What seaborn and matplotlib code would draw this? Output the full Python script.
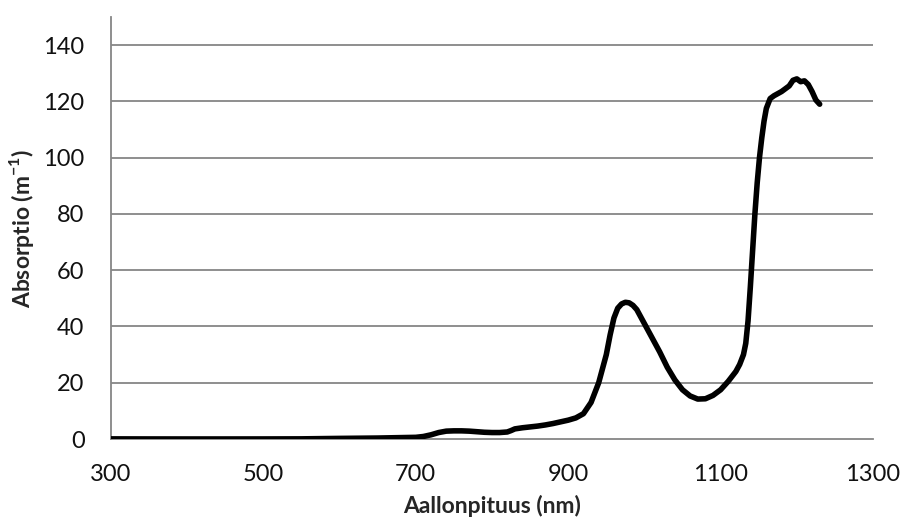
import numpy as np
import pandas as pd
import matplotlib
matplotlib.use("Agg")
import matplotlib.pyplot as plt
import seaborn as sns

wavelength = [300, 350, 400, 450, 500, 550, 600, 650, 700, 710, 720, 730, 740, 750,
              760, 770, 780, 790, 800, 810, 820, 825, 830, 840, 850, 860, 870, 880,
              890, 900, 910, 920, 930, 940, 950, 955, 960, 965, 970, 975, 980, 985,
              990, 1000, 1010, 1020, 1030, 1040, 1050, 1060, 1070, 1080, 1090, 1100,
              1110, 1120, 1125, 1130, 1133, 1136, 1139, 1142, 1145, 1148, 1151, 1154,
              1157, 1160, 1165, 1170, 1180, 1190, 1195, 1200, 1205, 1210, 1215, 1220,
              1225, 1230]
absorption = [0.05, 0.03, 0.02, 0.02, 0.03, 0.06, 0.22, 0.35, 0.6, 0.9, 1.5, 2.3, 2.8, 2.9,
              2.9, 2.8, 2.6, 2.4, 2.3, 2.3, 2.5, 3.0, 3.6, 4.0, 4.3, 4.6, 5.0, 5.5,
              6.1, 6.7, 7.5, 9.0, 13.0, 20.0, 30.0, 37.0, 43.0, 46.5, 48.0, 48.6, 48.4, 47.5,
              46.0, 41.0, 36.0, 31.0, 25.5, 21.0, 17.5, 15.3, 14.2, 14.3, 15.5, 17.5,
              20.5, 24.0, 26.5, 30.0, 34.0, 42.0, 54.0, 67.0, 80.0, 91.0, 100.0, 107.0,
              113.0, 117.5, 121.0, 122.0, 123.5, 125.5, 127.5, 128.0, 127.0, 127.3, 126.0,
              123.5, 120.5, 119.0]

x_ticks = [300, 500, 700, 900, 1100, 1300]
y_ticks = [0, 20, 40, 60, 80, 100, 120, 140]

sns.set_theme(style="white")
plt.rcParams['font.family'] = ['Lato', 'DejaVu Sans']
plt.rcParams['mathtext.fontset'] = 'custom'
plt.rcParams['mathtext.rm'] = 'Lato'
plt.rcParams['mathtext.bf'] = 'Lato:bold'

df = pd.DataFrame({"wl": wavelength, "a": absorption})

fig = plt.figure(figsize=(9.03, 5.29), dpi=100)
ax = fig.add_axes([0.1229, 0.1701, 0.9668 - 0.1229, 0.9679 - 0.1701])

grid_col = "#868686"
for yv in y_ticks[1:]:
    ax.axhline(yv, color=grid_col, lw=1.3, zorder=1)

sns.lineplot(data=df, x="wl", y="a", ax=ax, color="black", lw=4.0, zorder=3,
             solid_capstyle="round", solid_joinstyle="round")

ax.set_xlim(300, 1300)
ax.set_ylim(0, 150)
ax.set_xticks(x_ticks)
ax.set_yticks(y_ticks)
ax.set_xticklabels([str(v) for v in x_ticks])
ax.set_yticklabels([str(v) for v in y_ticks])

for s in ["top", "right"]:
    ax.spines[s].set_visible(False)
for s in ["left", "bottom"]:
    ax.spines[s].set_color(grid_col)
    ax.spines[s].set_linewidth(1.3)

ax.tick_params(axis="both", which="major", direction="out", length=7, width=1.3,
               color=grid_col, labelsize=17, labelcolor="#111111")
ax.tick_params(axis="x", pad=11)
ax.tick_params(axis="y", pad=12)

ax.set_xlabel("Aallonpituus (nm)", fontsize=16.5, fontweight="bold", labelpad=7)
ax.set_ylabel(r"Absorptio (m$^{\mathbf{-1}}$)", fontsize=16.5, fontweight="bold", labelpad=5)

fig.savefig("out.png", dpi=100)
